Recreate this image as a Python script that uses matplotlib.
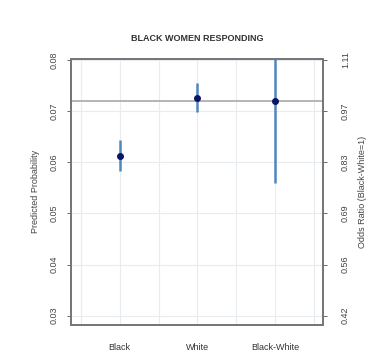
import matplotlib
matplotlib.use("Agg")
import matplotlib.pyplot as plt

plt.rcParams["font.family"] = ["Liberation Sans", "DejaVu Sans"]

categories = ["Black", "White", "Black-White"]
estimates = [0.0612, 0.0726, 0.0719]
lower = [0.0582, 0.0698, 0.0560]
upper = [0.0643, 0.0754, 0.0840]
reference_line = 0.072

left_ticks = [0.03, 0.04, 0.05, 0.06, 0.07, 0.08]
right_labels = ["0.42", "0.56", "0.69", "0.83", "0.97", "1.11"]

fig = plt.figure(figsize=(3.79, 3.59), dpi=100)
ax = fig.add_axes([0.187, 0.095, 0.665, 0.741])

x = list(range(1, len(categories) + 1))

# light grid at half-category steps and at the y ticks
for gx in [0.5, 1, 1.5, 2, 2.5, 3, 3.5]:
    ax.axvline(gx, color="#e8ecf0", lw=0.8, zorder=0)
for gy in left_ticks:
    ax.axhline(gy, color="#e8ecf0", lw=0.8, zorder=0)

ax.axhline(reference_line, color="#a8a8a8", lw=1.2, zorder=1)

for xi, est, lo, hi in zip(x, estimates, lower, upper):
    ax.plot([xi, xi], [lo, hi], color="#4f86bd", lw=1.8, zorder=2, solid_capstyle="butt")
    ax.plot(xi, est, "o", color="#0b1466", ms=4.0, zorder=3)

ax.set_xlim(0.37, 3.62)
ax.set_ylim(0.0282, 0.0802)
ax.set_xticks(x)
ax.set_xticklabels(categories, fontsize=6.5, color="#333333")
ax.tick_params(axis="x", length=0, pad=13)

ax.set_yticks(left_ticks)
ax.set_yticklabels([f"{t:.2f}" for t in left_ticks], fontsize=6.5, rotation=90,
                   va="center", color="#444444")
ax.tick_params(axis="y", length=3, width=0.7, color="#666666", pad=6)
ax.set_ylabel("Predicted Probability", fontsize=6.5, color="#444444", labelpad=7)

ax2 = ax.twinx()
ax2.set_ylim(ax.get_ylim())
ax2.set_yticks(left_ticks)
ax2.set_yticklabels(right_labels, fontsize=6.5, rotation=90, va="center", color="#444444")
ax2.tick_params(axis="y", length=3, width=0.7, color="#666666", pad=10)
ax2.set_ylabel("Odds Ratio (Black-White=1)", fontsize=6.5, color="#444444", labelpad=6)

for a in (ax, ax2):
    for spine in a.spines.values():
        spine.set_color("#777777")
        spine.set_linewidth(1.4)

ax.set_title("BLACK WOMEN RESPONDING", fontsize=6.5, fontweight="bold",
             color="#333333", pad=13)

fig.savefig("out.png", dpi=100)
